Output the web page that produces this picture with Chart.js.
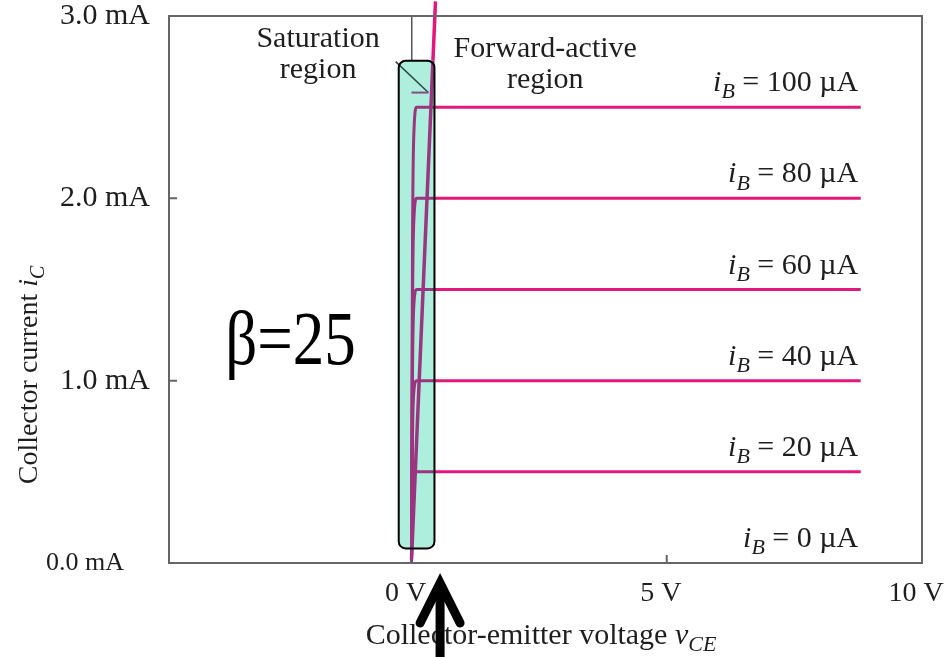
<!DOCTYPE html>
<html>
<head>
<meta charset="utf-8">
<script src="https://cdn.jsdelivr.net/npm/chart.js@4"></script>
<style>
html, body { margin: 0; padding: 0; background: #fff; }
</style>
</head>
<body>
<canvas id="myChart" width="950" height="657"></canvas>
<script>
// values: v_CE in volts, i_C in mA
const vceSteps = [0, 0.02, 0.05, 0.1, 0.45, 8.8];
const ic100 = [0, 1.75, 2.38, 2.5, 2.5, 2.5];
const ic80 = [0, 1.4, 1.9, 2.0, 2.0, 2.0];
const ic60 = [0, 1.05, 1.43, 1.5, 1.5, 1.5];
const ic40 = [0, 0.7, 0.95, 1.0, 1.0, 1.0];
const ic20 = [0, 0.35, 0.48, 0.5, 0.5, 0.5];
const baseCurrents = ['100', '80', '60', '40', '20', '0'];
const labelLevels = [2.5, 2.0, 1.5, 1.0, 0.5, 0];

// edge of saturation (goes off the top of the frame)
const edgeV = [0, 0.01, 0.42, 0.47];
const edgeI = [0.02, 0.08, 2.755, 3.08];

// pointer from "Saturation region" and the little shelf under it
const pointerV = [-0.31, 0.33];
const pointerI = [2.75, 2.58];
const shelfV = [0, 0.33];
const shelfI = [2.58, 2.58];

// the shaded saturation box
const boxV = [-0.25, 0.45];
const boxI = [0.08, 2.755];

const xTicks = [0, 5, 10];
const xTickLabels = ['0 V', '5 V', '10 V'];
const yTicks = [0, 1, 2, 3];
const yTickLabels = ['0.0 mA    ', '1.0 mA', '2.0 mA', '3.0 mA'];

const pink = '#e3177d';
const purple = '#9a3580';
const serif = '"Liberation Serif", "Times New Roman", serif';

const inBox = (v, i) => v >= boxV[0] && v <= boxV[1] + 1e-6 && i >= boxI[0] - 1e-6 && i <= boxI[1] + 1e-6;
const segColor = c => {
    const mv = (c.p0.parsed.x + c.p1.parsed.x) / 2;
    const mi = (c.p0.parsed.y + c.p1.parsed.y) / 2;
    return inBox(mv, mi) ? purple : pink;
};
const toPoints = (xs, ys) => xs.map((v, i) => ({x: v, y: ys[i]}));

const datasets = [ic100, ic80, ic60, ic40, ic20].map((ic, k) => ({
    label: 'iB = ' + baseCurrents[k] + ' µA',
    data: toPoints(vceSteps, ic),
    borderColor: pink,
    borderWidth: 3,
    pointRadius: 0,
    cubicInterpolationMode: 'monotone',
    segment: { borderColor: segColor }
}));

datasets.push({
    label: 'edge',
    data: toPoints(edgeV, edgeI),
    borderColor: pink,
    borderWidth: 3.5,
    pointRadius: 0,
    clip: false,
    segment: { borderColor: segColor }
});
datasets.push({
    label: 'shelf',
    data: toPoints(shelfV, shelfI),
    borderColor: '#8a4a86',
    borderWidth: 2,
    pointRadius: 0
});
datasets.push({
    label: 'pointer',
    data: toPoints(pointerV, pointerI),
    borderColor: '#2d4a44',
    borderWidth: 1.5,
    pointRadius: 0,
    clip: false
});

// draws text made of runs: ['text', ''|'i'|'sub']
function richText(ctx, runs, x, yBase, align, size) {
    const fonts = runs.map(r => (r[1] ? 'italic ' : '') + (r[1] === 'sub' ? Math.round(size * 0.72) : size) + 'px ' + serif);
    const widths = runs.map((r, i) => { ctx.font = fonts[i]; return ctx.measureText(r[0]).width; });
    const total = widths.reduce((a, b) => a + b, 0);
    let cx = align === 'right' ? x - total : align === 'center' ? x - total / 2 : x;
    ctx.textAlign = 'left';
    ctx.textBaseline = 'alphabetic';
    runs.forEach((r, i) => {
        ctx.font = fonts[i];
        ctx.fillText(r[0], cx, yBase + (r[1] === 'sub' ? size * 0.24 : 0));
        cx += widths[i];
    });
}

const figurePlugin = {
    id: 'figure',
    beforeDatasetsDraw(chart) {
        const {ctx, scales: {x, y}} = chart;
        const l = x.getPixelForValue(boxV[0]), r = x.getPixelForValue(boxV[1]);
        const t = y.getPixelForValue(boxI[1]), b = y.getPixelForValue(boxI[0]);
        ctx.save();
        ctx.beginPath();
        ctx.roundRect(l, t, r - l, b - t, 7);
        ctx.fillStyle = '#aeeedc';
        ctx.fill();
        ctx.restore();
    },
    afterDatasetsDraw(chart) {
        const {ctx, chartArea: a, scales: {x, y}} = chart;
        ctx.save();
        // box outline
        const l = x.getPixelForValue(boxV[0]), r = x.getPixelForValue(boxV[1]);
        const t = y.getPixelForValue(boxI[1]), b = y.getPixelForValue(boxI[0]);
        ctx.beginPath();
        ctx.roundRect(l, t, r - l, b - t, 7);
        ctx.strokeStyle = '#000';
        ctx.lineWidth = 2;
        ctx.stroke();

        // frame and inward ticks
        ctx.strokeStyle = '#666';
        ctx.lineWidth = 2;
        ctx.strokeRect(a.left, a.top, a.right - a.left, a.bottom - a.top);
        ctx.beginPath();
        [1, 2].forEach(v => {
            const py = y.getPixelForValue(v);
            ctx.moveTo(a.left, py); ctx.lineTo(a.left + 8, py);
        });
        const px5 = x.getPixelForValue(5);
        ctx.moveTo(px5, a.bottom); ctx.lineTo(px5, a.bottom - 8);
        ctx.stroke();

        // texts inside the frame
        ctx.fillStyle = '#1e1e1e';
        ctx.font = '30px ' + serif;
        ctx.textAlign = 'center';
        ctx.textBaseline = 'alphabetic';
        const satX = x.getPixelForValue(-1.83);
        ctx.fillText('Saturation', satX, 47);
        ctx.fillText('region', satX, 78);
        const fwdX = x.getPixelForValue(2.62);
        ctx.fillText('Forward-active', fwdX, 57);
        ctx.fillText('region', fwdX, 88);

        baseCurrents.forEach((ib, k) => {
            const py = y.getPixelForValue(labelLevels[k]) - 16;
            richText(ctx, [['i', 'i'], ['B', 'sub'], [' = ' + ib + ' µA', '']], x.getPixelForValue(8.75), py, 'right', 30);
        });

        ctx.fillStyle = '#000';
        ctx.font = '63px ' + serif;
        ctx.textAlign = 'left';
        ctx.translate(x.getPixelForValue(-3.65), y.getPixelForValue(1.09));
        ctx.scale(1, 1.2);
        ctx.fillText('β=25', 0, 0);
        ctx.restore();
    },
    afterDraw(chart) {
        const {ctx, chartArea: a, scales: {x}} = chart;
        ctx.save();
        ctx.fillStyle = '#1e1e1e';
        // axis titles
        richText(ctx, [['Collector-emitter voltage ', ''], ['v', 'i'], ['CE', 'sub']], 541, 644, 'center', 30);
        ctx.translate(37, 375);
        ctx.rotate(-Math.PI / 2);
        richText(ctx, [['Collector current ', ''], ['i', 'i'], ['C', 'sub']], 0, 0, 'center', 28);
        ctx.restore();

        // the black arrow under the axis
        ctx.save();
        const ax = x.getPixelForValue(0.56);
        const tip = a.bottom + 16;
        ctx.strokeStyle = '#000';
        ctx.lineWidth = 9;
        ctx.lineCap = 'round';
        ctx.lineJoin = 'miter';
        ctx.beginPath();
        ctx.moveTo(ax - 20, tip + 44);
        ctx.lineTo(ax, tip + 4);
        ctx.lineTo(ax + 20, tip + 44);
        ctx.stroke();
        ctx.lineCap = 'butt';
        ctx.beginPath();
        ctx.moveTo(ax, tip + 6);
        ctx.lineTo(ax, chart.height);
        ctx.stroke();
        ctx.restore();
    }
};

new Chart(document.getElementById('myChart'), {
    type: 'line',
    data: { datasets: datasets },
    options: {
        responsive: false,
        animation: false,
        layout: { padding: { top: 16, right: 28, left: 0, bottom: 0 } },
        plugins: { legend: { display: false }, tooltip: { enabled: false } },
        scales: {
            x: {
                type: 'linear',
                min: -4.75,
                max: 10,
                afterBuildTicks: s => { s.ticks = xTicks.map(v => ({value: v})); },
                afterFit: s => { s.height = 94; s.paddingLeft = 0; s.paddingRight = 0; },
                border: { display: false },
                grid: {
                    drawTicks: false,
                    lineWidth: 1.5,
                    color: c => (c.tick && c.tick.value === 0) ? '#555' : 'rgba(0,0,0,0)'
                },
                ticks: {
                    padding: 14,
                    labelOffset: -6,
                    autoSkip: false,
                    maxRotation: 0,
                    color: '#1e1e1e',
                    font: { family: serif, size: 28 },
                    callback: (v, i) => xTickLabels[i]
                }
            },
            y: {
                min: 0,
                max: 3,
                afterBuildTicks: s => { s.ticks = yTicks.map(v => ({value: v})); },
                afterFit: s => { s.width = 169; s.paddingTop = 0; s.paddingBottom = 0; },
                border: { display: false },
                grid: { display: false, drawTicks: false },
                ticks: {
                    padding: 19,
                    autoSkip: false,
                    color: '#1e1e1e',
                    font: c => ({ family: serif, size: (c.tick && c.tick.value === 0) ? 26 : 30 }),
                    callback: (v, i) => yTickLabels[i]
                }
            }
        }
    },
    plugins: [figurePlugin]
});
</script>
</body>
</html>
